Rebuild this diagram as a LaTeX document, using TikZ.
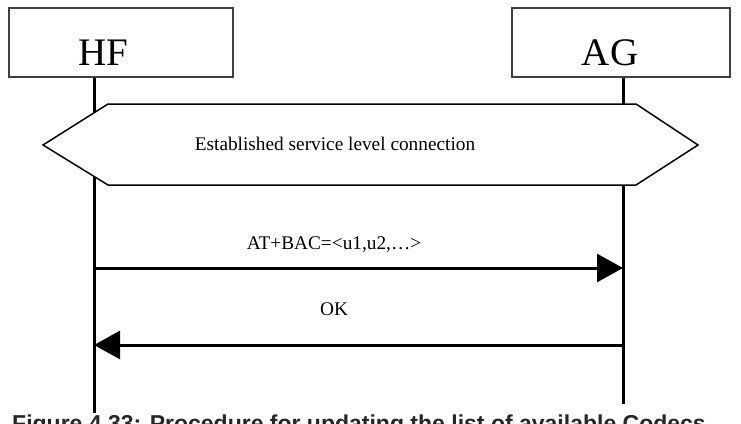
\documentclass[tikz,border=0pt]{standalone}
\usepackage{fontspec}
\setmainfont{Liberation Serif}
\newfontfamily\captionfont{Liberation Sans}
\usetikzlibrary{arrows.meta}
\tikzset{
    entity/.style ={
        shape=rectangle,
        draw=black!75,
        line width=1.5pt,
        minimum width=224pt,
        minimum height=69pt
    },
    entityname/.style ={
        font=\fontsize{39}{39}\selectfont,
        anchor=base,
        inner sep=0pt
    },
    lifeline/.style ={
        line width=3pt
    },
    message/.style ={
        line width=3pt,
        -{Triangle[length=26pt,width=28pt]}
    },
    msglabel/.style ={
        font=\fontsize{19.3}{19.3}\selectfont,
        anchor=base,
        inner sep=0pt
    }
}

\begin{document}
\begin{tikzpicture}[x=1pt,y=-1pt]
    \useasboundingbox (0,0) rectangle (741,423);
    \node[entity] (hf) at (121,42.5) {};
    \node[entity, minimum width=218pt] (ag) at (621,42.5) {};
    \node[entityname] (hfname) at (103,65) {HF};
    \node[entityname] (agname) at (610,65) {AG};
    \coordinate (hfend) at (94,413);
    \coordinate (agend) at (623,404);
    \draw[lifeline] (hfend |- hf.south) -- (hfend);
    \draw[lifeline] (agend |- ag.south) -- (agend);
    \draw[line width=1.5pt, fill=white] (43,145) -- (108,104) -- (636,104)
        -- (698,145) -- (636,185) -- (108,185) -- cycle;
    \node[msglabel] (slc) at (335,150) {Established service level connection};
    \coordinate (hfbac) at (94,268);
    \coordinate (agbac) at (623,268);
    \coordinate (agok) at (623,345);
    \coordinate (hfok) at (94,345);
    \draw[message] (hfbac) -- (agbac);
    \draw[message] (agok) -- (hfok);
    \node[msglabel] (bac) at (334,249) {AT+BAC=<u1,u2,…>};
    \node[msglabel] (ok) at (334,315) {OK};
    \begin{scope}
        \clip (0,0) rectangle (741,423);
        \node[anchor=base west, inner sep=0pt, text=black!85,
            font=\captionfont\bfseries\fontsize{23}{23}\selectfont] (caption) at (12,431)
            {Figure 4.33: Procedure for updating the list of available Codecs};
    \end{scope}
\end{tikzpicture}
\end{document}
